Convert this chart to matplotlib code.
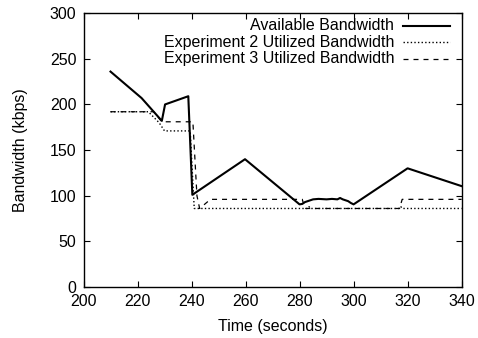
#!/usr/bin/env python3
"""Available vs utilized bandwidth over time (gnuplot-style line chart)."""

import matplotlib
matplotlib.use("Agg")
import matplotlib.pyplot as plt
from matplotlib.lines import Line2D

plt.rcParams["font.family"] = ["Liberation Sans", "DejaVu Sans"]

# Available bandwidth (solid)
avail_t = [210, 221.5, 229, 230.2, 238.8, 240.3, 259.8, 280, 281, 282, 283, 284, 285,
           287, 290, 292, 294, 295, 296, 297, 298, 299, 300, 320, 340]
avail_bw = [236, 207, 182, 200, 209, 101, 140, 90.5, 91, 93, 94, 95, 96,
            96.5, 96, 96.5, 96, 97.5, 96, 95, 94, 92, 90.5, 130, 110.5]

# Experiment 2 utilized bandwidth (dotted)
exp2_t = [210, 224, 228, 230, 239.5, 241, 283, 283.5, 284, 317, 317.5, 318, 340]
exp2_bw = [192, 192, 180, 171, 171, 86, 86, 88, 86, 86, 88, 86, 86]

# Experiment 3 utilized bandwidth (dashed)
exp3_t = [210, 226, 229, 240.5, 242, 243, 247, 281, 282, 317, 318, 340]
exp3_bw = [192, 192, 181, 181, 100, 86, 96, 96, 86, 86, 96, 96]

labels = ["Available Bandwidth",
          "Experiment 2 Utilized Bandwidth",
          "Experiment 3 Utilized Bandwidth"]

x_ticks = [200, 220, 240, 260, 280, 300, 320, 340]
y_ticks = [0, 50, 100, 150, 200, 250, 300]

FS = 11.5

fig = plt.figure(figsize=(4.78, 3.38), dpi=100)
ax = fig.add_axes([0.1747, 0.151, 0.791, 0.81])

styles = [dict(color="black", lw=1.5, ls="-"),
          dict(color="black", lw=1.0, ls=(0, (1, 1.6))),
          dict(color="black", lw=0.9, ls=(0, (4, 4)))]

ax.plot(avail_t, avail_bw, **styles[0])
ax.plot(exp2_t, exp2_bw, **styles[1])
ax.plot(exp3_t, exp3_bw, **styles[2])

ax.set_xlim(200, 340)
ax.set_ylim(0, 300)
ax.set_xticks(x_ticks)
ax.set_yticks(y_ticks)
ax.tick_params(direction="in", length=4, width=0.8, top=True, right=True,
               labelsize=FS, pad=5)
for s in ax.spines.values():
    s.set_linewidth(1.0)

ax.set_xlabel("Time (seconds)", fontsize=FS, labelpad=7)
ax.set_ylabel("Bandwidth (kbps)", fontsize=FS, labelpad=16)

# gnuplot-like key: right-aligned text, sample line on the right
key_y = [0.955, 0.893, 0.833]
for lab, st, ky in zip(labels, styles, key_y):
    ax.text(0.822, ky, lab, transform=ax.transAxes, ha="right", va="center",
            fontsize=FS)
    ax.add_line(Line2D([0.845, 0.97], [ky, ky], transform=ax.transAxes, **st))

fig.savefig("out.png", dpi=100)
